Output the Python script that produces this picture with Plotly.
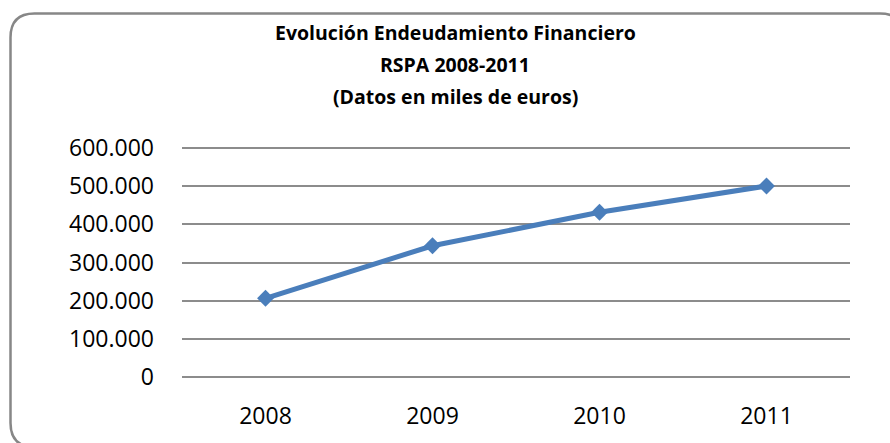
import plotly.graph_objects as go

years = ["2008", "2009", "2010", "2011"]
deuda = [206000, 344000, 432000, 501000]
y_ticks = [0, 100000, 200000, 300000, 400000, 500000, 600000]
title_lines = [
    "Evolución Endeudamiento Financiero",
    "RSPA 2008-2011",
    "(Datos en miles de euros)",
]

W, H = 890, 443
L, R, T, B = 182, 40, 146, 64
PW, PH = W - L - R, H - T - B
Y_PAD = 6000  # margen para que se dibujen las rejillas de 0 y 600.000


def px(x):  # pixel -> paper x
    return (x - L) / PW


def py(y):  # pixel -> paper y
    return (H - B - y) / PH


fig = go.Figure(go.Scatter(
    x=years, y=deuda, mode="lines+markers",
    line=dict(color="#4A7EBB", width=5),
    marker=dict(symbol="diamond", size=13, color="#4A7EBB"),
    hoverinfo="x+y",
))

# marco redondeado (se sale por la derecha y por abajo)
x0, y0, x1, y1, r = 10.5, 13.5, 904, 447, 24
path = (f"M {px(x0)},{py(y0 + r)} Q {px(x0)},{py(y0)} {px(x0 + r)},{py(y0)} "
        f"L {px(x1 - r)},{py(y0)} Q {px(x1)},{py(y0)} {px(x1)},{py(y0 + r)} "
        f"L {px(x1)},{py(y1 - r)} Q {px(x1)},{py(y1)} {px(x1 - r)},{py(y1)} "
        f"L {px(x0 + r)},{py(y1)} Q {px(x0)},{py(y1)} {px(x0)},{py(y1 - r)} Z")
fig.add_shape(type="path", path=path, xref="paper", yref="paper",
              line=dict(color="#878787", width=2.5), layer="below")

for txt, yy in zip(title_lines, [32, 64.5, 96]):
    fig.add_annotation(text=f"<b>{txt}</b>", x=px(455), y=py(yy), xref="paper", yref="paper",
                       showarrow=False, xanchor="center", yanchor="middle",
                       font=dict(family="Open Sans", size=19.5, color="black"))

fig.update_layout(
    width=W, height=H, margin=dict(l=L, r=R, t=T, b=B),
    paper_bgcolor="white", plot_bgcolor="white", showlegend=False,
    separators=",.",
    font=dict(family="Open Sans", size=23, color="black"),
    xaxis=dict(type="category", range=[-0.5, 3.5], showgrid=False, showline=False,
               zeroline=False, ticks="", ticklabelstandoff=21),
    yaxis=dict(range=[-Y_PAD, 600000 + Y_PAD], tickvals=y_ticks, tickformat=",d",
               showgrid=True, gridcolor="#8C8C8C", gridwidth=1.5,
               zeroline=True, zerolinecolor="#8C8C8C", zerolinewidth=1.5,
               showline=False, ticks="", ticklabelstandoff=27),
)

fig.write_html("out.html", config={"displayModeBar": False},
               post_script="document.body.style.margin='0';")
